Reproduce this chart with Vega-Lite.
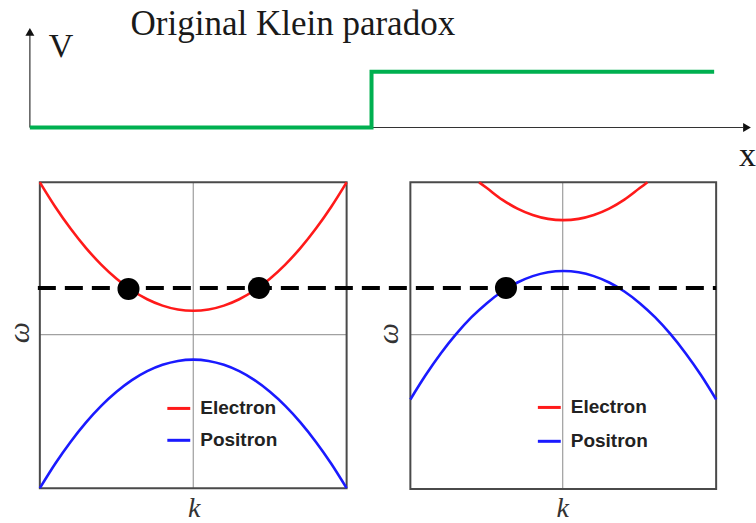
{
  "$schema": "https://vega.github.io/schema/vega-lite/v6.json",
  "width": 756,
  "height": 523,
  "autosize": {"type": "fit", "contains": "padding"},
  "padding": 0,
  "background": "white",
  "config": {"view": {"stroke": null}},
  "encoding": {
    "x": {"field": "x", "type": "quantitative", "scale": {"domain": [0, 756], "nice": false, "zero": false}, "axis": null},
    "y": {"field": "y", "type": "quantitative", "scale": {"domain": [0, 523], "reverse": true, "nice": false, "zero": false}, "axis": null}
  },
  "layer": [
    {
      "data": {"values": [
        {"seg": "v", "o": 1, "x": 30, "y": 128}, {"seg": "v", "o": 2, "x": 30, "y": 34},
        {"seg": "h", "o": 1, "x": 30, "y": 128}, {"seg": "h", "o": 2, "x": 746, "y": 128}
      ]},
      "mark": {"type": "line", "color": "#333333", "strokeWidth": 1.2},
      "encoding": {"detail": {"field": "seg"}, "order": {"field": "o", "type": "quantitative"}}
    },
    {
      "data": {"values": [
        {"shape": "triangle-up", "x": 30, "y": 32},
        {"shape": "triangle-right", "x": 750, "y": 128}
      ]},
      "mark": {"type": "point", "filled": true, "color": "#111111", "size": 80, "opacity": 1},
      "encoding": {"shape": {"field": "shape", "type": "nominal", "scale": null}}
    },
    {
      "data": {"values": [
        {"o": 1, "x": 30, "y": 128}, {"o": 2, "x": 373, "y": 128},
        {"o": 3, "x": 373, "y": 72}, {"o": 4, "x": 717, "y": 72}
      ]},
      "mark": {"type": "line", "color": "#00b050", "strokeWidth": 4, "strokeJoin": "miter"},
      "encoding": {"order": {"field": "o", "type": "quantitative"}}
    },
    {
      "data": {"values": [
        {"x": 194, "x2": 194, "y": 183, "y2": 490},
        {"x": 40, "x2": 348, "y": 336, "y2": 336},
        {"x": 565, "x2": 565, "y": 183, "y2": 491},
        {"x": 412, "x2": 719, "y": 336, "y2": 336}
      ]},
      "mark": {"type": "rule", "color": "#8a8a8a", "strokeWidth": 1},
      "encoding": {"x2": {"field": "x2"}, "y2": {"field": "y2"}}
    },
    {
      "data": {"values": [
        {"x": 40, "x2": 348, "y": 183, "y2": 490},
        {"x": 412, "x2": 719, "y": 183, "y2": 491}
      ]},
      "mark": {"type": "rect", "fill": "transparent", "stroke": "#4a4a4a", "strokeWidth": 2},
      "encoding": {"x2": {"field": "x2"}, "y2": {"field": "y2"}}
    },
    {
      "data": {"values": [
        {"curve": "L-e", "band": "Electron", "x": 40, "y": 183},
        {"curve": "L-e", "band": "Electron", "x": 55.4, "y": 207.5},
        {"curve": "L-e", "band": "Electron", "x": 70.8, "y": 229.4},
        {"curve": "L-e", "band": "Electron", "x": 86.2, "y": 248.8},
        {"curve": "L-e", "band": "Electron", "x": 101.6, "y": 265.6},
        {"curve": "L-e", "band": "Electron", "x": 117, "y": 279.8},
        {"curve": "L-e", "band": "Electron", "x": 132.4, "y": 291.4},
        {"curve": "L-e", "band": "Electron", "x": 147.8, "y": 300.4},
        {"curve": "L-e", "band": "Electron", "x": 163.2, "y": 306.8},
        {"curve": "L-e", "band": "Electron", "x": 178.6, "y": 310.7},
        {"curve": "L-e", "band": "Electron", "x": 194, "y": 312},
        {"curve": "L-e", "band": "Electron", "x": 209.4, "y": 310.7},
        {"curve": "L-e", "band": "Electron", "x": 224.8, "y": 306.8},
        {"curve": "L-e", "band": "Electron", "x": 240.2, "y": 300.4},
        {"curve": "L-e", "band": "Electron", "x": 255.6, "y": 291.4},
        {"curve": "L-e", "band": "Electron", "x": 271, "y": 279.8},
        {"curve": "L-e", "band": "Electron", "x": 286.4, "y": 265.6},
        {"curve": "L-e", "band": "Electron", "x": 301.8, "y": 248.8},
        {"curve": "L-e", "band": "Electron", "x": 317.2, "y": 229.4},
        {"curve": "L-e", "band": "Electron", "x": 332.6, "y": 207.5},
        {"curve": "L-e", "band": "Electron", "x": 348, "y": 183},
        {"curve": "L-p", "band": "Positron", "x": 40, "y": 490},
        {"curve": "L-p", "band": "Positron", "x": 55.4, "y": 465.5},
        {"curve": "L-p", "band": "Positron", "x": 70.8, "y": 443.6},
        {"curve": "L-p", "band": "Positron", "x": 86.2, "y": 424.2},
        {"curve": "L-p", "band": "Positron", "x": 101.6, "y": 407.4},
        {"curve": "L-p", "band": "Positron", "x": 117, "y": 393.3},
        {"curve": "L-p", "band": "Positron", "x": 132.4, "y": 381.6},
        {"curve": "L-p", "band": "Positron", "x": 147.8, "y": 372.6},
        {"curve": "L-p", "band": "Positron", "x": 163.2, "y": 366.2},
        {"curve": "L-p", "band": "Positron", "x": 178.6, "y": 362.3},
        {"curve": "L-p", "band": "Positron", "x": 194, "y": 361},
        {"curve": "L-p", "band": "Positron", "x": 209.4, "y": 362.3},
        {"curve": "L-p", "band": "Positron", "x": 224.8, "y": 366.2},
        {"curve": "L-p", "band": "Positron", "x": 240.2, "y": 372.6},
        {"curve": "L-p", "band": "Positron", "x": 255.6, "y": 381.6},
        {"curve": "L-p", "band": "Positron", "x": 271, "y": 393.3},
        {"curve": "L-p", "band": "Positron", "x": 286.4, "y": 407.4},
        {"curve": "L-p", "band": "Positron", "x": 301.8, "y": 424.2},
        {"curve": "L-p", "band": "Positron", "x": 317.2, "y": 443.6},
        {"curve": "L-p", "band": "Positron", "x": 332.6, "y": 465.5},
        {"curve": "L-p", "band": "Positron", "x": 348, "y": 490},
        {"curve": "R-e", "band": "Electron", "x": 481, "y": 183},
        {"curve": "R-e", "band": "Electron", "x": 488.8, "y": 188.8},
        {"curve": "R-e", "band": "Electron", "x": 504.1, "y": 200.4},
        {"curve": "R-e", "band": "Electron", "x": 519.5, "y": 209.4},
        {"curve": "R-e", "band": "Electron", "x": 534.8, "y": 215.8},
        {"curve": "R-e", "band": "Electron", "x": 550.2, "y": 219.7},
        {"curve": "R-e", "band": "Electron", "x": 565.5, "y": 221},
        {"curve": "R-e", "band": "Electron", "x": 580.9, "y": 219.7},
        {"curve": "R-e", "band": "Electron", "x": 596.2, "y": 215.8},
        {"curve": "R-e", "band": "Electron", "x": 611.6, "y": 209.4},
        {"curve": "R-e", "band": "Electron", "x": 626.9, "y": 200.4},
        {"curve": "R-e", "band": "Electron", "x": 642.3, "y": 188.8},
        {"curve": "R-e", "band": "Electron", "x": 650, "y": 183},
        {"curve": "R-p", "band": "Positron", "x": 412, "y": 401},
        {"curve": "R-p", "band": "Positron", "x": 427.4, "y": 376.5},
        {"curve": "R-p", "band": "Positron", "x": 442.7, "y": 354.6},
        {"curve": "R-p", "band": "Positron", "x": 458.1, "y": 335.2},
        {"curve": "R-p", "band": "Positron", "x": 473.4, "y": 318.4},
        {"curve": "R-p", "band": "Positron", "x": 488.8, "y": 304.3},
        {"curve": "R-p", "band": "Positron", "x": 504.1, "y": 292.6},
        {"curve": "R-p", "band": "Positron", "x": 519.5, "y": 283.6},
        {"curve": "R-p", "band": "Positron", "x": 534.8, "y": 277.2},
        {"curve": "R-p", "band": "Positron", "x": 550.2, "y": 273.3},
        {"curve": "R-p", "band": "Positron", "x": 565.5, "y": 272},
        {"curve": "R-p", "band": "Positron", "x": 580.9, "y": 273.3},
        {"curve": "R-p", "band": "Positron", "x": 596.2, "y": 277.2},
        {"curve": "R-p", "band": "Positron", "x": 611.6, "y": 283.6},
        {"curve": "R-p", "band": "Positron", "x": 626.9, "y": 292.6},
        {"curve": "R-p", "band": "Positron", "x": 642.3, "y": 304.3},
        {"curve": "R-p", "band": "Positron", "x": 657.6, "y": 318.4},
        {"curve": "R-p", "band": "Positron", "x": 673, "y": 335.2},
        {"curve": "R-p", "band": "Positron", "x": 688.3, "y": 354.6},
        {"curve": "R-p", "band": "Positron", "x": 703.7, "y": 376.5},
        {"curve": "R-p", "band": "Positron", "x": 719, "y": 401}
      ]},
      "mark": {"type": "line", "strokeWidth": 2.6, "interpolate": "monotone"},
      "encoding": {
        "detail": {"field": "curve"},
        "color": {"field": "band", "type": "nominal", "scale": {"domain": ["Electron", "Positron"], "range": ["#ff1a1a", "#1a1aff"]}, "legend": null}
      }
    },
    {
      "data": {"values": [{"x": 38, "x2": 719, "y": 289}]},
      "mark": {"type": "rule", "color": "#000000", "strokeWidth": 4, "strokeDash": [18, 9]},
      "encoding": {"x2": {"field": "x2"}}
    },
    {
      "data": {"values": [
        {"x": 129, "y": 290}, {"x": 260, "y": 289}, {"x": 508, "y": 289}
      ]},
      "mark": {"type": "point", "shape": "circle", "filled": true, "color": "#000000", "size": 484, "opacity": 1}
    },
    {
      "data": {"values": [
        {"band": "Electron", "x": 168, "x2": 191, "y": 410},
        {"band": "Positron", "x": 168, "x2": 191, "y": 442},
        {"band": "Electron", "x": 540, "x2": 563, "y": 409},
        {"band": "Positron", "x": 540, "x2": 563, "y": 443}
      ]},
      "mark": {"type": "rule", "strokeWidth": 3},
      "encoding": {
        "x2": {"field": "x2"},
        "color": {"field": "band", "type": "nominal", "legend": null}
      }
    },
    {
      "data": {"values": [
        {"label": "Electron", "x": 201, "y": 410},
        {"label": "Positron", "x": 201, "y": 442},
        {"label": "Electron", "x": 573, "y": 409},
        {"label": "Positron", "x": 573, "y": 443}
      ]},
      "mark": {"type": "text", "align": "left", "baseline": "middle", "font": "Liberation Sans", "fontWeight": "bold", "fontSize": 19, "color": "#222222"},
      "encoding": {"text": {"field": "label"}}
    },
    {
      "data": {"values": [{"label": "Original Klein paradox", "x": 294, "y": 35}]},
      "mark": {"type": "text", "align": "center", "baseline": "alphabetic", "font": "Liberation Serif", "fontSize": 35, "color": "#1a1a1a"},
      "encoding": {"text": {"field": "label"}}
    },
    {
      "data": {"values": [{"label": "V", "x": 49, "y": 57}, {"label": "x", "x": 742, "y": 167}]},
      "mark": {"type": "text", "align": "left", "baseline": "alphabetic", "font": "Liberation Serif", "fontSize": 34, "color": "#1a1a1a"},
      "encoding": {"text": {"field": "label"}}
    },
    {
      "data": {"values": [{"label": "ω", "x": 20, "y": 334}, {"label": "ω", "x": 391, "y": 335}]},
      "mark": {"type": "text", "align": "center", "baseline": "middle", "angle": -90, "font": "Liberation Serif", "fontStyle": "italic", "fontSize": 30, "color": "#333333"},
      "encoding": {"text": {"field": "label"}}
    },
    {
      "data": {"values": [{"label": "k", "x": 195, "y": 519}, {"label": "k", "x": 565, "y": 519}]},
      "mark": {"type": "text", "align": "center", "baseline": "alphabetic", "font": "Liberation Serif", "fontStyle": "italic", "fontSize": 28, "color": "#333333"},
      "encoding": {"text": {"field": "label"}}
    }
  ]
}
